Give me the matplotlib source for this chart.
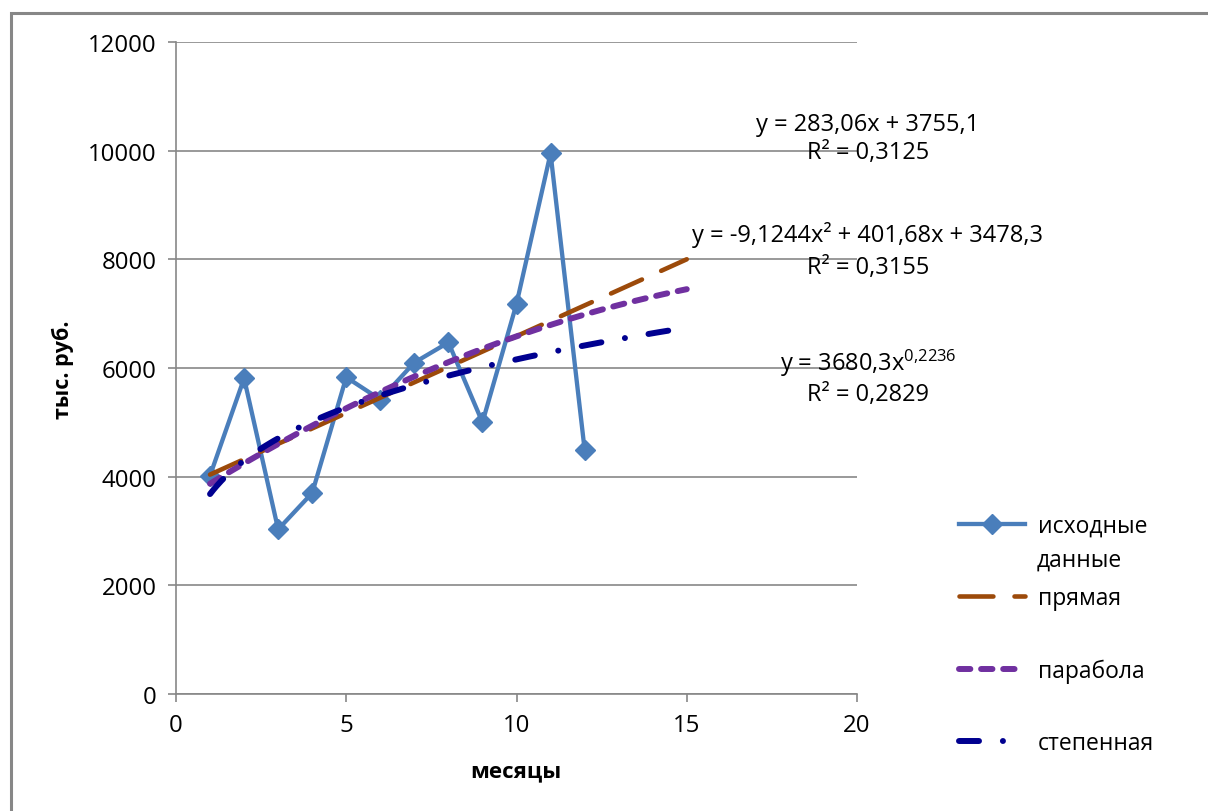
import matplotlib
matplotlib.use('Agg')
import matplotlib.pyplot as plt
import numpy as np
from matplotlib.patches import Rectangle

# monthly data
months = [1, 2, 3, 4, 5, 6, 7, 8, 9, 10, 11, 12]
revenue = [4020, 5810, 3030, 3700, 5830, 5420, 6100, 6470, 5000, 7180, 9950, 4500]

# trendline coefficients as printed on the chart (forecast to x = 15)
lin_coef = [283.06, 3755.1]
par_coef = [-9.1244, 401.68, 3478.3]
pow_coef = [3680.3, 0.2236]
trend_start, trend_end = 1, 15

x_ticks = [0, 5, 10, 15, 20]
y_ticks = [0, 2000, 4000, 6000, 8000, 10000, 12000]

labels = ['исходные', 'прямая', 'парабола', 'степенная']
label_wrap = 'данные'  # second line of the first legend entry
eq_lines = ['y = 283,06x + 3755,1', 'R² = 0,3125',
            'y = -9,1244x² + 401,68x + 3478,3', 'R² = 0,3155',
            r'y = 3680,3x$^{\mathrm{0{,}2236}}$', 'R² = 0,2829']

W, H = 1208, 812


def fx(px):
    return px / W


def fy(py):
    return 1 - py / H


def main():
    plt.rcParams['font.family'] = ['Open Sans', 'DejaVu Sans']
    plt.rcParams['mathtext.fontset'] = 'custom'
    plt.rcParams['mathtext.rm'] = 'Open Sans'
    plt.rcParams['mathtext.it'] = 'Open Sans:italic'
    plt.rcParams['mathtext.bf'] = 'Open Sans:bold'

    fig = plt.figure(figsize=(W / 100, H / 100), dpi=100)
    fig.patch.set_facecolor('white')

    # chart area border (only top and left edge visible)
    fig.add_artist(Rectangle((fx(10.5), -0.1), 1.2, fy(14) + 0.1, transform=fig.transFigure,
                             fill=False, edgecolor='#878787', lw=2.2, clip_on=False))

    ax = fig.add_axes([fx(176), fy(695), fx(857) - fx(176), fy(43) - fy(695)])
    grid_col = '#878787'

    xt = np.linspace(trend_start, trend_end, 300)
    y_lin = lin_coef[0] * xt + lin_coef[1]
    y_par = par_coef[0] * xt ** 2 + par_coef[1] * xt + par_coef[2]
    y_pow = pow_coef[0] * xt ** pow_coef[1]

    h_data, = ax.plot(months, revenue, color='#4A7EBB', lw=3.1, marker='D', markersize=10,
                      markeredgecolor='#4A7EBB', zorder=3)
    h_lin, = ax.plot(xt, y_lin, color='#9C4A0A', lw=3.3, ls=(0, (7.4, 4.6)),
                     dash_capstyle='round', zorder=4)
    h_par, = ax.plot(xt, y_par, color='#7030A0', lw=4.3, ls=(0, (1.9, 1.8)),
                     dash_capstyle='round', zorder=5)
    h_pow, = ax.plot(xt, y_pow, color='#000090', lw=4.3, ls=(0, (3.35, 4.0, 0.01, 4.0)),
                     dash_capstyle='round', zorder=6)

    ax.set_xlim(0, 20)
    ax.set_ylim(0, 12000)
    ax.set_xticks(x_ticks)
    ax.set_yticks(y_ticks)
    ax.grid(axis='y', color=grid_col, lw=1.2)
    ax.set_axisbelow(True)
    for s in ['top', 'right']:
        ax.spines[s].set_visible(False)
    for s in ['left', 'bottom']:
        ax.spines[s].set_color(grid_col)
        ax.spines[s].set_linewidth(1.2)
    ax.tick_params(axis='both', direction='out', length=6, width=1.2, color=grid_col,
                   labelsize=17.3, pad=8)

    fig.text(fx(63), fy(370), 'тыс. руб.', rotation=90, ha='center', va='center',
             fontsize=15.5, fontweight='bold')
    fig.text(fx(516), fy(772), 'месяцы', ha='center', va='center',
             fontsize=16, fontweight='bold')

    # trendline equations
    eq_y = [125, 153, 235, 268, 363, 395]
    for txt, py in zip(eq_lines, eq_y):
        fig.text(fx(868), fy(py), txt, ha='center', va='center', fontsize=17)

    # legend, one entry per block to keep the spacing of the original
    handles = [h_data, h_lin, h_par, h_pow]
    leg_center = [527, 599, 672, 744]
    for h, lab, py in zip(handles, labels, leg_center):
        fig.legend([h], [lab], loc='center left', bbox_to_anchor=(fx(959), fy(py)),
                   frameon=False, borderpad=0, borderaxespad=0, fontsize=16.5,
                   handlelength=2.9, handletextpad=0.55)
    fig.text(fx(1037), fy(561), label_wrap, ha='left', va='center', fontsize=16.5)

    fig.savefig('out.png', dpi=100, facecolor='white')


if __name__ == "__main__":
    main()
